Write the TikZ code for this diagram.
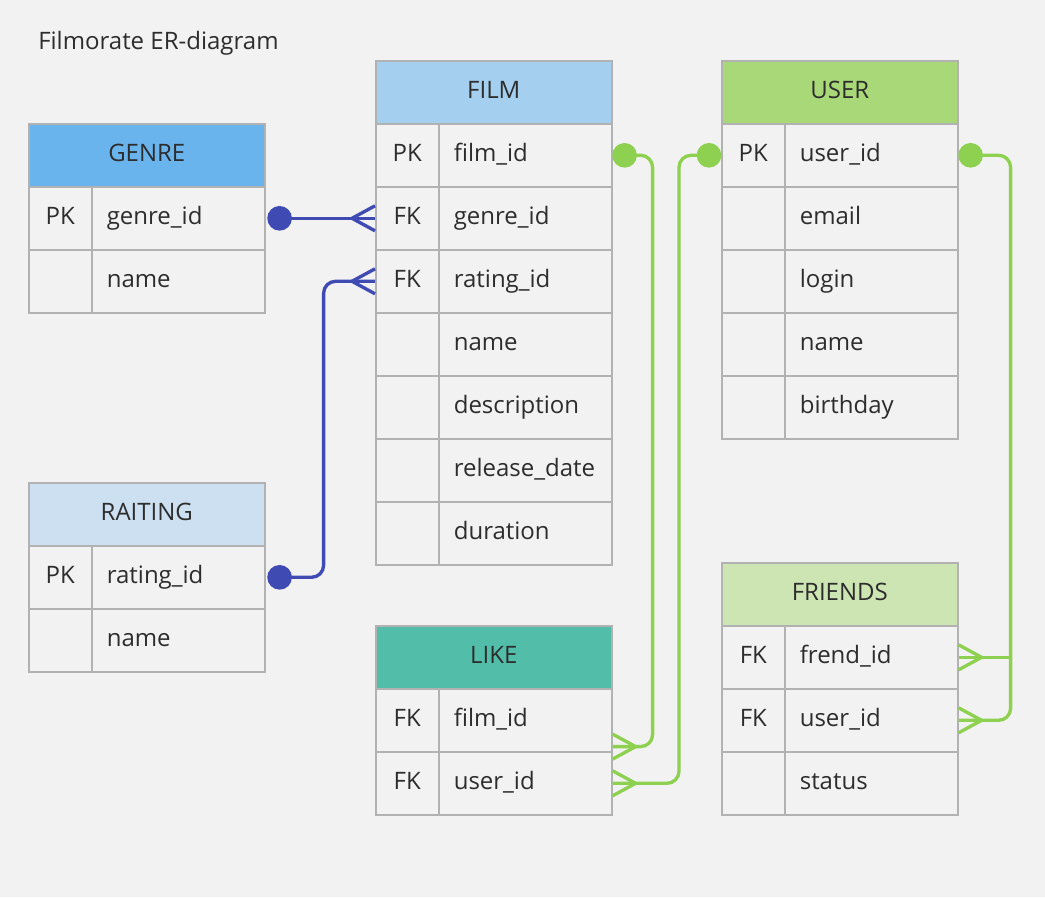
\documentclass[tikz,border=0pt]{standalone}
\usepackage{fontspec}
\setmainfont{Open Sans}
\usetikzlibrary{positioning, calc}
\definecolor{erbg}{RGB}{242,242,242}
\definecolor{erline}{RGB}{178,178,178}
\definecolor{ertext}{RGB}{45,45,45}
\definecolor{genreblue}{RGB}{106,180,238}
\definecolor{filmblue}{RGB}{164,207,239}
\definecolor{ratingblue}{RGB}{204,224,241}
\definecolor{liketeal}{RGB}{82,190,170}
\definecolor{usergreen}{RGB}{168,216,119}
\definecolor{friendsgreen}{RGB}{204,229,179}
\definecolor{relblue}{RGB}{63,75,179}
\definecolor{relgreen}{RGB}{142,209,80}

% crow's foot: colour, point on the table edge, offset of the tip
\newcommand{\erfoot}[3]{\draw[line width=2.5pt, #1] ($(#2)+(#3,0)$) -- ($(#2)+(0,-12.5)$) ($(#2)+(#3,0)$) -- ($(#2)+(0,12.5)$);}

\begin{document}
\begin{tikzpicture}[
    x=0.75pt, y=-0.75pt,
    every node/.style={font=\fontsize{18}{22}\selectfont, text=ertext},
    head/.style={draw=erline, line width=1.2pt, fill=#1, minimum width=177pt, minimum height=47.25pt, inner sep=0pt, text height=12.5pt, text depth=3.5pt, anchor=north west},
    keycell/.style={draw=erline, line width=1.2pt, fill=erbg, minimum width=47.25pt, minimum height=47.25pt, inner sep=0pt, text height=12.5pt, text depth=3.5pt, anchor=north west},
    valcell/.style={draw=erline, line width=1.2pt, fill=erbg, text width=107.25pt, inner xsep=11.25pt, inner ysep=0pt, minimum height=47.25pt, text height=12.5pt, text depth=3.5pt, align=left, anchor=north west},
    rel/.style={line width=2.5pt, rounded corners=9pt},
    dot/.style={circle, fill=#1, inner sep=0pt, minimum size=18.5pt},
]
\fill[erbg] (0,0) rectangle (1045,897);

\node[anchor=west, inner xsep=0pt] (title) at (38,43) {Filmorate ER-diagram};

% GENRE
\node[head=genreblue] (genre) at (28,123) {GENRE};
\foreach \i/\k/\v in {1/PK/genre\_id, 2/{}/name} {
    \node[keycell] (genre-k\i) at (28,123+63*\i) {\k};
    \node[valcell] (genre-v\i) at (91,123+63*\i) {\v};
}

% RAITING
\node[head=ratingblue] (rating) at (28,482) {RAITING};
\foreach \i/\k/\v in {1/PK/rating\_id, 2/{}/name} {
    \node[keycell] (rating-k\i) at (28,482+63*\i) {\k};
    \node[valcell] (rating-v\i) at (91,482+63*\i) {\v};
}

% FILM
\node[head=filmblue] (film) at (375,60) {FILM};
\foreach \i/\k/\v in {1/PK/film\_id, 2/FK/genre\_id, 3/FK/rating\_id, 4/{}/name, 5/{}/description, 6/{}/release\_date, 7/{}/duration} {
    \node[keycell] (film-k\i) at (375,60+63*\i) {\k};
    \node[valcell] (film-v\i) at (438,60+63*\i) {\v};
}

% LIKE
\node[head=liketeal] (like) at (375,625) {LIKE};
\foreach \i/\k/\v in {1/FK/film\_id, 2/FK/user\_id} {
    \node[keycell] (like-k\i) at (375,625+63*\i) {\k};
    \node[valcell] (like-v\i) at (438,625+63*\i) {\v};
}

% USER
\node[head=usergreen] (user) at (721,60) {USER};
\foreach \i/\k/\v in {1/PK/user\_id, 2/{}/email, 3/{}/login, 4/{}/name, 5/{}/birthday} {
    \node[keycell] (user-k\i) at (721,60+63*\i) {\k};
    \node[valcell] (user-v\i) at (784,60+63*\i) {\v};
}

% FRIENDS
\node[head=friendsgreen] (friends) at (721,562) {FRIENDS};
\foreach \i/\k/\v in {1/FK/frend\_id, 2/FK/user\_id, 3/{}/status} {
    \node[keycell] (friends-k\i) at (721,562+63*\i) {\k};
    \node[valcell] (friends-v\i) at (784,562+63*\i) {\v};
}

% relations
\node[dot=relblue] (genre-dot) at ($(genre-v1.east)+(14,0)$) {};
\node[dot=relblue] (rating-dot) at ($(rating-v1.east)+(14,0)$) {};
\node[dot=relgreen] (film-dot) at ($(film-v1.east)+(12,0)$) {};
\node[dot=relgreen] (user-dot-l) at ($(user-k1.west)+(-12,0)$) {};
\node[dot=relgreen] (user-dot-r) at ($(user-v1.east)+(12,0)$) {};
\coordinate (like-fk1) at ($(like-v1.south east)+(0,-6)$);

\draw[rel, relblue] (genre-dot.center) -- (film-k2.west);
\erfoot{relblue}{film-k2.west}{-23}
\draw[rel, relblue] (rating-dot.center) -- ++(44,0) |- (film-k3.west);
\erfoot{relblue}{film-k3.west}{-23}

\draw[rel, relgreen] (film-dot.center) -- ++(28,0) |- (like-fk1);
\erfoot{relgreen}{like-fk1}{23}
\draw[rel, relgreen] (user-dot-l.center) -- ++(-30,0) |- (like-v2.east);
\erfoot{relgreen}{like-v2.east}{23}
\draw[rel, relgreen] (user-dot-r.center) -- ++(40,0) coordinate (user-bend) |- (friends-v2.east);
\draw[line width=2.5pt, relgreen] (user-bend |- friends-v1.east) -- (friends-v1.east);
\erfoot{relgreen}{friends-v1.east}{23}
\erfoot{relgreen}{friends-v2.east}{23}

\end{tikzpicture}
\end{document}
